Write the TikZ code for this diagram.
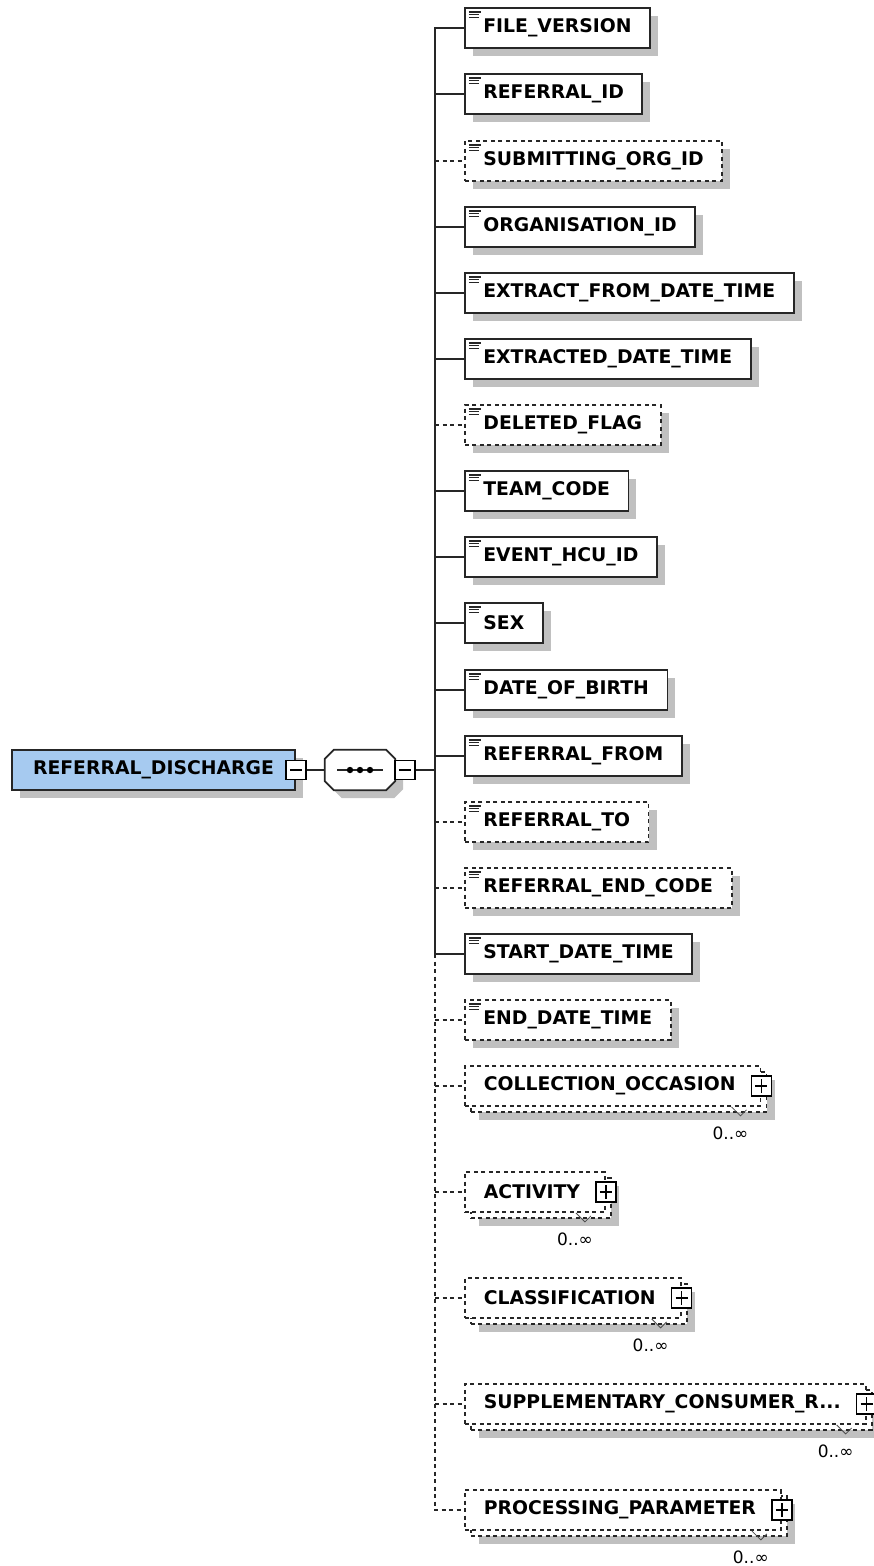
\documentclass[tikz,border=0pt]{standalone}
\usepackage{fontspec}
\setmainfont{DejaVu Sans}
\usetikzlibrary{shadows}

\definecolor{rootblue}{RGB}{166,202,240}
\definecolor{shadowgrey}{RGB}{192,192,192}

\tikzset{
	conn/.style={line width=1.8pt, draw=black!85},
	optconn/.style={conn, dash pattern=on 4pt off 3.5pt},
	flatshadow/.style={drop shadow={shadow xshift=8pt, shadow yshift=-8pt, fill=shadowgrey, opacity=1}},
	elem/.style={draw=black!85, line width=1.8pt, fill=white, anchor=west,
		minimum height=40pt, inner xsep=18.5pt, inner ysep=0pt,
		font={\fontsize{18.8}{22}\selectfont\bfseries}, flatshadow,
		path picture={
			\draw[solid, line width=1.2pt] ([xshift=4pt,yshift=-4pt]path picture bounding box.north west) -- ++(12pt,0pt);
			\draw[solid, line width=1.2pt] ([xshift=4pt,yshift=-6.7pt]path picture bounding box.north west) -- ++(10pt,0pt);
			\draw[solid, line width=1.2pt] ([xshift=4pt,yshift=-9.4pt]path picture bounding box.north west) -- ++(10pt,0pt);
		}},
	optelem/.style={elem, dash pattern=on 4pt off 3.5pt},
	cplx/.style={draw=black!85, line width=1.8pt, fill=white, anchor=west, dash pattern=on 4pt off 3.5pt,
		minimum height=40pt, inner xsep=19pt, inner ysep=0pt,
		font={\fontsize{18.8}{22}\selectfont\bfseries}, execute at end node={\hspace*{6pt}},
		drop shadow={shadow xshift=14pt, shadow yshift=-14pt, fill=shadowgrey, opacity=1},
		copy shadow={shadow xshift=6pt, shadow yshift=-6pt, draw=black!85, fill=white}},
	signbox/.style={draw=black, line width=1.5pt, fill=white, solid, minimum width=20pt, minimum height=19pt, inner sep=0pt},
	minusbox/.style={signbox,
		path picture={\draw[line width=1.5pt] ([xshift=-6pt]path picture bounding box.center) -- ([xshift=6pt]path picture bounding box.center);}},
	plusbox/.style={signbox, minimum height=20pt,
		path picture={\draw[line width=1.5pt] ([xshift=-6pt]path picture bounding box.center) -- ([xshift=6pt]path picture bounding box.center);
			\draw[line width=1.5pt] ([yshift=-7pt]path picture bounding box.center) -- ([yshift=7pt]path picture bounding box.center);}},
	rootbox/.style={draw=black!85, line width=1.8pt, fill=rootblue, minimum width=283pt, minimum height=40pt, inner sep=0pt,
		font={\fontsize{18.8}{22}\selectfont\bfseries}, flatshadow},
	seqbox/.style={minimum width=70pt, minimum height=40pt, inner sep=0pt},
	seqline/.style={draw=black!85, line width=1.8pt, fill=white, flatshadow},
	mult/.style={font={\fontsize{17}{19}\selectfont}, inner sep=0pt},
	tick/.style={line width=0.8pt, draw=black!70}
}

\begin{document}
\begin{tikzpicture}[x=1pt, y=-1pt]
	\useasboundingbox (0,0) rectangle (874,1566);

	\node[rootbox] (root) at (153.5,770) {REFERRAL\_DISCHARGE};
	\node[minusbox] (rootminus) at (root.east) {};
	\node[seqbox] (seq) at (360,770) {};
	\draw[seqline] ([xshift=9pt]seq.north west) -- ([xshift=-9pt]seq.north east) -- ([yshift=-9pt]seq.north east)
		-- ([yshift=9pt]seq.south east) -- ([xshift=-9pt]seq.south east) -- ([xshift=9pt]seq.south west)
		-- ([yshift=9pt]seq.south west) -- ([yshift=-9pt]seq.north west) -- cycle;
	\draw[conn] ([xshift=-23pt]seq.center) -- ([xshift=23pt]seq.center);
	\fill ([xshift=-10pt]seq.center) circle (3.2pt);
	\fill (seq.center) circle (3.2pt);
	\fill ([xshift=10pt]seq.center) circle (3.2pt);
	\node[minusbox] (seqminus) at ([xshift=10pt]seq.east) {};
	\coordinate (spine) at (435,770);

	\node[elem] (fileversion) at (464,28) {FILE\_VERSION};
	\node[elem] (referralid) at (464,94) {REFERRAL\_ID};
	\node[optelem] (submorgid) at (464,161) {SUBMITTING\_ORG\_ID};
	\node[elem] (orgid) at (464,227) {ORGANISATION\_ID};
	\node[elem] (extractfrom) at (464,293) {EXTRACT\_FROM\_DATE\_TIME};
	\node[elem] (extracted) at (464,359) {EXTRACTED\_DATE\_TIME};
	\node[optelem] (deletedflag) at (464,425) {DELETED\_FLAG};
	\node[elem] (teamcode) at (464,491) {TEAM\_CODE};
	\node[elem] (eventhcu) at (464,557) {EVENT\_HCU\_ID};
	\node[elem] (sex) at (464,623) {SEX};
	\node[elem] (dob) at (464,690) {DATE\_OF\_BIRTH};
	\node[elem] (referralfrom) at (464,756) {REFERRAL\_FROM};
	\node[optelem] (referralto) at (464,822) {REFERRAL\_TO};
	\node[optelem] (referralend) at (464,888) {REFERRAL\_END\_CODE};
	\node[elem] (startdt) at (464,954) {START\_DATE\_TIME};
	\node[optelem] (enddt) at (464,1020) {END\_DATE\_TIME};

	\node[cplx] (colloccasion) at (464,1086) {COLLECTION\_OCCASION};
	\node[cplx] (activity) at (464,1192) {ACTIVITY};
	\node[cplx] (classification) at (464,1298) {CLASSIFICATION};
	\node[cplx] (suppconsumer) at (464,1404) {SUPPLEMENTARY\_CONSUMER\_R...};
	\node[cplx] (procparam) at (464,1510) {PROCESSING\_PARAMETER};

	\node[plusbox] (collplus) at (colloccasion.east) {};
	\node[plusbox] (actplus) at (activity.east) {};
	\node[plusbox] (classplus) at (classification.east) {};
	\node[plusbox] (suppplus) at (suppconsumer.east) {};
	\node[plusbox] (procplus) at (procparam.east) {};

	\draw[tick] ([xshift=-30pt]colloccasion.south east) -- ++(9pt,-9pt) -- ++(6pt,6pt);
	\draw[tick] ([xshift=-30pt]activity.south east) -- ++(9pt,-9pt) -- ++(6pt,6pt);
	\draw[tick] ([xshift=-30pt]classification.south east) -- ++(9pt,-9pt) -- ++(6pt,6pt);
	\draw[tick] ([xshift=-30pt]suppconsumer.south east) -- ++(9pt,-9pt) -- ++(6pt,6pt);
	\draw[tick] ([xshift=-30pt]procparam.south east) -- ++(9pt,-9pt) -- ++(6pt,6pt);

	\node[mult] (collmult) at ([xshift=-31pt,yshift=-47pt]colloccasion.east) {0..∞};
	\node[mult] (actmult) at ([xshift=-31pt,yshift=-47pt]activity.east) {0..∞};
	\node[mult] (classmult) at ([xshift=-31pt,yshift=-47pt]classification.east) {0..∞};
	\node[mult] (suppmult) at ([xshift=-31pt,yshift=-47pt]suppconsumer.east) {0..∞};
	\node[mult] (procmult) at ([xshift=-31pt,yshift=-47pt]procparam.east) {0..∞};

	\draw[conn] (rootminus.east) -- (seq.west);
	\draw[conn] (seqminus.east) -- (spine);
	\draw[conn] (fileversion.west) -- (spine |- fileversion.west) -- (spine |- startdt.west) -- (startdt.west);
	\draw[conn] (spine |- referralid.west) -- (referralid.west);
	\draw[optconn] (spine |- submorgid.west) -- (submorgid.west);
	\draw[conn] (spine |- orgid.west) -- (orgid.west);
	\draw[conn] (spine |- extractfrom.west) -- (extractfrom.west);
	\draw[conn] (spine |- extracted.west) -- (extracted.west);
	\draw[optconn] (spine |- deletedflag.west) -- (deletedflag.west);
	\draw[conn] (spine |- teamcode.west) -- (teamcode.west);
	\draw[conn] (spine |- eventhcu.west) -- (eventhcu.west);
	\draw[conn] (spine |- sex.west) -- (sex.west);
	\draw[conn] (spine |- dob.west) -- (dob.west);
	\draw[conn] (spine |- referralfrom.west) -- (referralfrom.west);
	\draw[optconn] (spine |- referralto.west) -- (referralto.west);
	\draw[optconn] (spine |- referralend.west) -- (referralend.west);
	\draw[optconn] (spine |- startdt.west) -- (spine |- procparam.west) -- (procparam.west);
	\draw[optconn] (spine |- enddt.west) -- (enddt.west);
	\draw[optconn] (spine |- colloccasion.west) -- (colloccasion.west);
	\draw[optconn] (spine |- activity.west) -- (activity.west);
	\draw[optconn] (spine |- classification.west) -- (classification.west);
	\draw[optconn] (spine |- suppconsumer.west) -- (suppconsumer.west);

\end{tikzpicture}
\end{document}
